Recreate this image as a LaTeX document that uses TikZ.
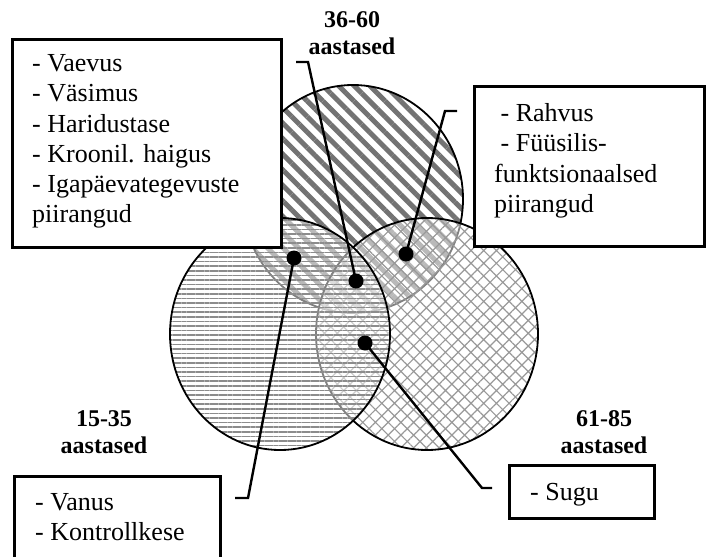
\documentclass[tikz,border=0pt]{standalone}
\usepackage{fontspec}
\setmainfont{Liberation Serif}
\usetikzlibrary{patterns.meta}

\begin{document}
\begin{tikzpicture}[x=1pt,y=-1pt,
  ring/.style={line width=1.8pt},
  tag/.style={font=\fontsize{24}{27}\selectfont\bfseries, anchor=base, inner sep=0pt},
  line/.style={font=\fontsize{26}{30}\selectfont, anchor=base west, inner sep=0pt},
  frame/.style={draw, fill=white, line width=2.6pt, anchor=north west, inner sep=0pt},
  dot/.style={circle, fill, inner sep=0pt, minimum size=15pt},
  link/.style={line width=2.4pt}]
\useasboundingbox (0,0) rectangle (708,556);
\clip (0,0) rectangle (708,556);
% circles, back to front: 36-60, 61-85, 15-35
\fill[white, fill opacity=0.5] (353,199) ellipse [x radius=110, y radius=114];
\fill[pattern={Lines[angle=-45,distance=11pt,line width=5pt]}, pattern color=black!55] (353,199) ellipse [x radius=110, y radius=114];
\draw[ring] (353,199) ellipse [x radius=110, y radius=114];
\fill[white, fill opacity=0.5] (427,334) ellipse [x radius=111, y radius=116];
\fill[pattern={Hatch[angle=45,distance=9pt,line width=1.2pt]}, pattern color=black!40] (427,334) ellipse [x radius=111, y radius=116];
\draw[ring] (427,334) ellipse [x radius=111, y radius=116];
\fill[white, fill opacity=0.5] (280,334) ellipse [x radius=110, y radius=116];
\fill[pattern={Lines[angle=0,distance=4.6pt,line width=1.7pt]}, pattern color=black!45] (280,334) ellipse [x radius=110, y radius=116];
\draw[ring] (280,334) ellipse [x radius=110, y radius=116];
% age groups
\node[tag] (mid) at (352,28) {36-60};
\node[tag] (midb) at (352,55) {aastased};
\node[tag] (young) at (104,426) {15-35};
\node[tag] (youngb) at (104,453) {aastased};
\node[tag] (old) at (604,426) {61-85};
\node[tag] (oldb) at (604,453) {aastased};
% boxes
\node[frame, minimum width=269, minimum height=208] (midbox) at (11,38) {};
\node[frame, minimum width=230, minimum height=160] (allbox) at (473,85) {};
\node[frame, minimum width=206, minimum height=100] (youngbox) at (13,475) {};
\node[frame, minimum width=145, minimum height=53] (oldbox) at (508,464) {};
\foreach \t [count=\i] in {- Vaevus, - Väsimus, - Haridustase, - Kroonil. haigus, - Igapäevategevuste, piirangud}
  \node[line] (midl\i) at (32,42+30*\i) {\t};
\node[line] (alll1) at (494,122) {\ - Rahvus};
\node[line] (alll2) at (494,152) {\ - Füüsilis-};
\node[line] (alll3) at (494,182) {funktsionaalsed};
\node[line] (alll4) at (494,212) {piirangud};
\node[line] (youngl1) at (35,510) {- Vanus};
\node[line] (youngl2) at (35,540) {- Kontrollkese};
\node[line] (oldl1) at (530,500) {- Sugu};
% dots and leaders
\node[dot] (d1) at (356,281) {};
\node[dot] (d2) at (406,254) {};
\node[dot] (d3) at (294,258) {};
\node[dot] (d4) at (365,343) {};
\coordinate (t1) at (296,62);
\coordinate (t2) at (457,111);
\coordinate (t3) at (235,498);
\coordinate (t4) at (492,488);
\draw[link] (t1) -- ++(12,0) -- (d1.center);
\draw[link] (t2) -- ++(-12,0) -- (d2.center);
\draw[link] (t3) -- ++(13,0) -- (d3.center);
\draw[link] (t4) -- ++(-10,0) -- (d4.center);
\end{tikzpicture}
\end{document}
